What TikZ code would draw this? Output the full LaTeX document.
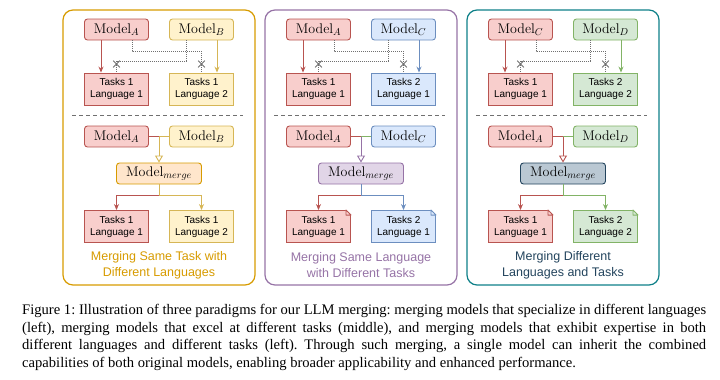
\documentclass[tikz,border=0pt]{standalone}
\usepackage{fontspec}
\setsansfont{Liberation Sans}
\newfontfamily\captionfont{Liberation Serif}
\usetikzlibrary{arrows.meta,positioning,shapes.misc}
\definecolor{redfill}{HTML}{F8CECC}
\definecolor{redline}{HTML}{B85450}
\definecolor{yellowfill}{HTML}{FFF2CC}
\definecolor{yellowline}{HTML}{D6B656}
\definecolor{bluefill}{HTML}{DAE8FC}
\definecolor{blueline}{HTML}{6C8EBF}
\definecolor{greenfill}{HTML}{D5E8D4}
\definecolor{greenline}{HTML}{82B366}
\definecolor{purplefill}{HTML}{E1D5E7}
\definecolor{purpleline}{HTML}{9673A6}
\definecolor{orangefill}{HTML}{FFE6CC}
\definecolor{orangeline}{HTML}{D79B00}
\definecolor{navyfill}{HTML}{BAC8D3}
\definecolor{navyline}{HTML}{23445D}
\definecolor{tealline}{HTML}{0E8088}
\definecolor{muted}{HTML}{707070}

\tikzset{
    panel/.style={draw=#1, line width=1.2pt, rounded corners=10pt},
    modelbox/.style 2 args={draw=#1, fill=#2, line width=0.9pt, rounded corners=3pt,
        minimum width=64pt, minimum height=21pt, inner sep=0pt,
        font=\fontsize{14}{16}\selectfont},
    mergebox/.style 2 args={modelbox={#1}{#2}, minimum width=85pt},
    taskbox/.style 2 args={draw=#1, fill=#2, line width=0.9pt,
        minimum width=64pt, minimum height=32pt, inner sep=0pt, align=center,
        font=\sffamily\fontsize{10}{12}\selectfont},
    wire/.style={draw=#1, line width=0.9pt, -{Stealth[length=6pt,width=5pt]}},
    link/.style={draw=#1, line width=0.9pt},
    merge/.style={draw=#1, line width=0.9pt, -{Triangle[open,length=7pt,width=8pt,fill=white]}},
    blocked/.style={draw=muted, line width=0.8pt, dash pattern=on 1pt off 1pt},
    nogo/.style={draw=muted, cross out, line width=0.8pt, minimum size=6pt, inner sep=0pt},
    divider/.style={draw=muted, line width=0.8pt, dash pattern=on 4pt off 3pt},
    paneltext/.style={text=#1, align=center, inner sep=0pt,
        font=\sffamily\fontsize{12.5}{16}\selectfont}
}

% folded top-right corner of a task node
\newcommand{\foldcorner}[3]{%
    \fill[white] ([xshift=-6pt,yshift=1pt]#1.north east) -- ([xshift=1pt,yshift=1pt]#1.north east)
        -- ([xshift=1pt,yshift=-6pt]#1.north east) -- cycle;
    \draw[#2, fill=#3, line width=0.9pt, line join=round] ([xshift=-5pt]#1.north east)
        -- ([yshift=-5pt]#1.north east) -- ([xshift=-5pt,yshift=-5pt]#1.north east) -- cycle;
}

\begin{document}
\begin{tikzpicture}[x=1pt, y=-1pt]
    \useasboundingbox (0,0) rectangle (720,380);

    % same task, different languages
    \begin{scope}[xshift=159pt]
        \draw[panel=orangeline] (-96,10) rectangle (96,285);
        \node[modelbox={redline}{redfill}] (ma1) at (-42.5,29.5) {Model$_A$};
        \node[modelbox={yellowline}{yellowfill}] (mb1) at (42.5,29.5) {Model$_B$};
        \node[taskbox={redline}{redfill}] (ta1) at (-42.5,89) {Tasks 1\\Language 1};
        \node[taskbox={yellowline}{yellowfill}] (tb1) at (42.5,89) {Tasks 1\\Language 2};
        \draw[wire=redline] ([xshift=-15.5pt]ma1.south) -- ([xshift=-15.5pt]ta1.north);
        \draw[wire=yellowline] ([xshift=15.5pt]mb1.south) -- ([xshift=15.5pt]tb1.north);
        \draw[blocked] ([xshift=15.5pt]ma1.south) -- ++(0,11) -| (tb1.north);
        \draw[blocked] ([xshift=-15.5pt]mb1.south) -- ++(0,21) -| (ta1.north);
        \node[nogo] (xa1) at ([yshift=8.5pt]ta1.north) {};
        \node[nogo] (xb1) at ([yshift=8.5pt]tb1.north) {};
        \draw[divider] (-87,115) -- (84,115);

        \node[modelbox={redline}{redfill}] (ca1) at (-42.5,136.5) {Model$_A$};
        \node[modelbox={yellowline}{yellowfill}] (cb1) at (42.5,136.5) {Model$_B$};
        \node[mergebox={orangeline}{orangefill}] (mm1) at (0,173.5) {Model$_{merge}$};
        \node[taskbox={redline}{redfill}] (da1) at (-42.5,226.5) {Tasks 1\\Language 1};
        \node[taskbox={yellowline}{yellowfill}] (db1) at (42.5,226.5) {Tasks 1\\Language 2};
        \coordinate (j1) at (mm1.north |- ca1.east);
        \draw[link=redline] (ca1.east) -- (j1);
        \draw[link=yellowline] (cb1.west) -- (j1);
        \draw[merge=yellowline] (j1) -- (mm1.north);
        \coordinate (s1) at ([yshift=-11pt]mm1.south);
        \draw[link=yellowline] (mm1.south) -- (s1);
        \draw[wire=redline] (s1) -| (da1.north);
        \draw[wire=yellowline] (s1) -| (db1.north);
        \node[paneltext=orangeline] (lbl1) at (0,265.5) {Merging Same Task with\\Different Languages};
    \end{scope}

    % same language, different tasks
    \begin{scope}[xshift=361pt]
        \draw[panel=purpleline] (-96,10) rectangle (96,285);
        \node[modelbox={redline}{redfill}] (ma2) at (-42.5,29.5) {Model$_A$};
        \node[modelbox={blueline}{bluefill}] (mb2) at (42.5,29.5) {Model$_C$};
        \node[taskbox={redline}{redfill}] (ta2) at (-42.5,89) {Tasks 1\\Language 1};
        \node[taskbox={blueline}{bluefill}] (tb2) at (42.5,89) {Tasks 2\\Language 1};
        \draw[wire=redline] ([xshift=-15.5pt]ma2.south) -- ([xshift=-15.5pt]ta2.north);
        \draw[wire=blueline] ([xshift=15.5pt]mb2.south) -- ([xshift=15.5pt]tb2.north);
        \draw[blocked] ([xshift=15.5pt]ma2.south) -- ++(0,11) -| (tb2.north);
        \draw[blocked] ([xshift=-15.5pt]mb2.south) -- ++(0,21) -| (ta2.north);
        \node[nogo] (xa2) at ([yshift=8.5pt]ta2.north) {};
        \node[nogo] (xb2) at ([yshift=8.5pt]tb2.north) {};
        \draw[divider] (-87,115) -- (84,115);

        \node[modelbox={redline}{redfill}] (ca2) at (-42.5,136.5) {Model$_A$};
        \node[modelbox={blueline}{bluefill}] (cb2) at (42.5,136.5) {Model$_C$};
        \node[mergebox={purpleline}{purplefill}] (mm2) at (0,173.5) {Model$_{merge}$};
        \node[taskbox={redline}{redfill}] (da2) at (-42.5,226.5) {Tasks 1\\Language 1};
        \node[taskbox={blueline}{bluefill}] (db2) at (42.5,226.5) {Tasks 2\\Language 1};
        \foldcorner{da2}{redline}{redfill}
        \foldcorner{db2}{blueline}{bluefill}
        \coordinate (j2) at (mm2.north |- ca2.east);
        \draw[link=redline] (ca2.east) -- (j2);
        \draw[link=greenline] (cb2.west) -- (j2);
        \draw[merge=purpleline] (j2) -- (mm2.north);
        \coordinate (s2) at ([yshift=-11pt]mm2.south);
        \draw[link=blueline] (mm2.south) -- (s2);
        \draw[wire=redline] (s2) -| (da2.north);
        \draw[wire=blueline] (s2) -| (db2.north);
        \node[paneltext=purpleline] (lbl2) at (0,265.5) {Merging Same Language\\with Different Tasks};
    \end{scope}

    % different languages and tasks
    \begin{scope}[xshift=563pt]
        \draw[panel=tealline] (-96,10) rectangle (96,285);
        \node[modelbox={redline}{redfill}] (ma3) at (-42.5,29.5) {Model$_C$};
        \node[modelbox={greenline}{greenfill}] (mb3) at (42.5,29.5) {Model$_D$};
        \node[taskbox={redline}{redfill}] (ta3) at (-42.5,89) {Tasks 1\\Language 1};
        \node[taskbox={greenline}{greenfill}] (tb3) at (42.5,89) {Tasks 2\\Language 2};
        \draw[wire=redline] ([xshift=-15.5pt]ma3.south) -- ([xshift=-15.5pt]ta3.north);
        \draw[wire=greenline] ([xshift=15.5pt]mb3.south) -- ([xshift=15.5pt]tb3.north);
        \draw[blocked] ([xshift=15.5pt]ma3.south) -- ++(0,11) -| (tb3.north);
        \draw[blocked] ([xshift=-15.5pt]mb3.south) -- ++(0,21) -| (ta3.north);
        \node[nogo] (xa3) at ([yshift=8.5pt]ta3.north) {};
        \node[nogo] (xb3) at ([yshift=8.5pt]tb3.north) {};
        \draw[divider] (-87,115) -- (84,115);

        \node[modelbox={redline}{redfill}] (ca3) at (-42.5,136.5) {Model$_A$};
        \node[modelbox={greenline}{greenfill}] (cb3) at (42.5,136.5) {Model$_D$};
        \node[mergebox={navyline}{navyfill}] (mm3) at (0,173.5) {Model$_{merge}$};
        \node[taskbox={redline}{redfill}] (da3) at (-42.5,226.5) {Tasks 1\\Language 1};
        \node[taskbox={greenline}{greenfill}] (db3) at (42.5,226.5) {Tasks 2\\Language 2};
        \foldcorner{da3}{redline}{redfill}
        \foldcorner{db3}{greenline}{greenfill}
        \coordinate (j3) at (mm3.north |- ca3.east);
        \draw[link=redline] (ca3.east) -- (j3);
        \draw[link=greenline] (cb3.west) -- (j3);
        \draw[merge=redline] (j3) -- (mm3.north);
        \coordinate (s3) at ([yshift=-11pt]mm3.south);
        \draw[link=greenline] (mm3.south) -- (s3);
        \draw[wire=redline] (s3) -| (da3.north);
        \draw[wire=greenline] (s3) -| (db3.north);
        \node[paneltext=navyline] (lbl3) at (0,265.5) {Merging Different\\Languages and Tasks};
    \end{scope}

    \node[anchor=north west, inner sep=0pt, text width=684pt, align=justify,
        font=\captionfont\fontsize{14.6}{17.5}\selectfont] (figcap) at (22,304.5)
        {\frenchspacing\hyphenpenalty=10000\relax
        Figure 1: Illustration of three paradigms for our LLM merging: merging models that specialize in different languages\linebreak
        (left), merging models that excel at different tasks (middle), and merging models that exhibit expertise in both\linebreak
        different languages and different tasks (left). Through such merging, a single model can inherit the combined\linebreak
        capabilities of both original models, enabling broader applicability and enhanced performance.};
\end{tikzpicture}
\end{document}
